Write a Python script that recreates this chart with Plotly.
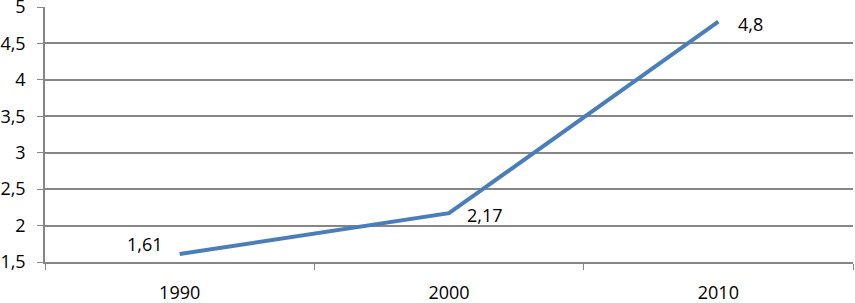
import plotly.graph_objects as go

years = ["1990", "2000", "2010"]
values = [1.61, 2.17, 4.8]
y_ticks = [1.5, 2, 2.5, 3, 3.5, 4, 4.5, 5]

labels = [str(v).replace(".", ",") for v in values]
y_tick_text = [("%g" % t).replace(".", ",") for t in y_ticks]

# label offsets (pixels) relative to each point
label_shifts = [(-35, 10), (36, -2), (32, -2)]

font = dict(family="Open Sans", size=18, color="#000000")

fig = go.Figure(go.Scatter(
    x=years, y=values, mode="lines",
    line=dict(color="#4a7ebb", width=4),
))

for i, (y, t, (dx, dy)) in enumerate(zip(values, labels, label_shifts)):
    fig.add_annotation(x=i, y=y, xref="x", yref="y", text=t, showarrow=False,
                       xanchor="center", yanchor="middle",
                       xshift=dx, yshift=dy, font=font)

fig.update_layout(
    width=855, height=303,
    margin=dict(l=45, r=2, t=7, b=41, autoexpand=False),
    paper_bgcolor="white", plot_bgcolor="white",
    showlegend=False, font=font,
)
fig.update_xaxes(
    type="category", range=[-0.5, 2.5], automargin=False,
    tickson="boundaries", ticks="outside", ticklen=6, tickcolor="#868686",
    showline=True, linecolor="#868686", linewidth=1.5,
    showgrid=False, zeroline=False, ticklabelstandoff=14,
    ticklabeloverflow="allow", tickfont=font,
)
fig.update_yaxes(
    range=[1.5, 5], tickvals=y_ticks, ticktext=y_tick_text, automargin=False,
    ticks="outside", ticklen=6, tickcolor="#868686",
    showline=True, linecolor="#868686", linewidth=1.5,
    showgrid=True, gridcolor="#868686", gridwidth=1.5,
    zeroline=False, ticklabelstandoff=8, ticklabeloverflow="allow",
    tickfont=font,
)

fig.write_html(
    "out.html",
    config={"displayModeBar": False},
    post_script="document.body.style.margin='0';document.body.style.overflow='hidden';",
)
